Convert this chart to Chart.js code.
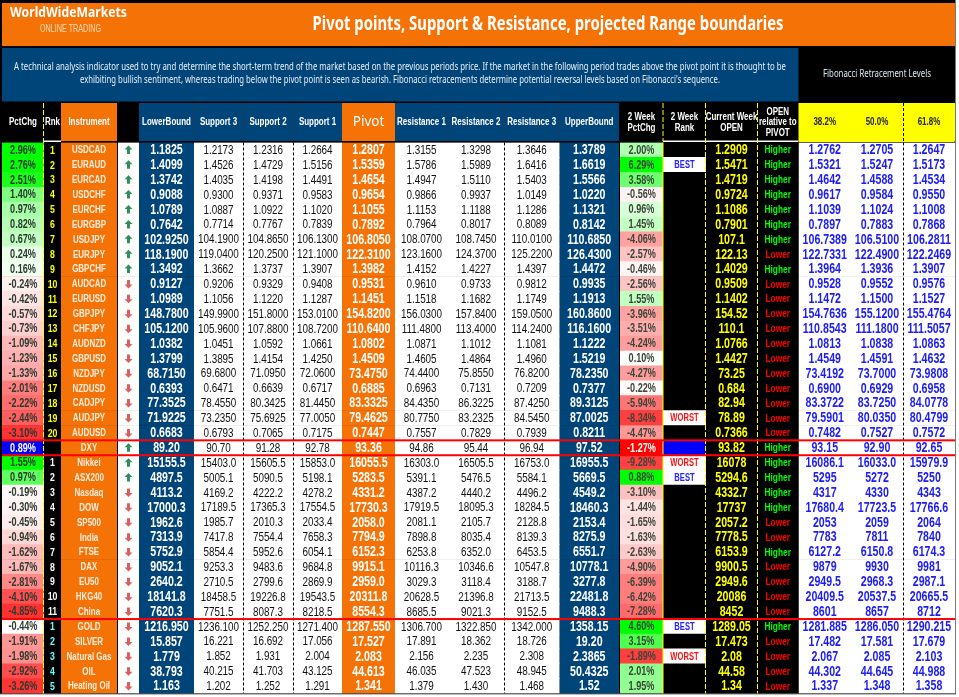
<!DOCTYPE html>
<html>
<head>
<meta charset="utf-8">
<title>Pivot points</title>
<script src="https://cdn.jsdelivr.net/npm/chart.js@4/dist/chart.umd.min.js"></script>
<style>
  html, body { margin: 0; padding: 0; background: #fff; }
  canvas { display: block; }
</style>
</head>
<body>
<canvas id="pivotTable" width="959" height="697"></canvas>
<script>
// ---- data ----
const instruments = ['USDCAD','EURAUD','EURCAD','USDCHF','EURCHF','EURGBP','USDJPY','EURJPY','GBPCHF','AUDCAD','EURUSD','GBPJPY','CHFJPY','AUDNZD','GBPUSD','NZDJPY','NZDUSD','CADJPY','AUDJPY','AUDUSD','DXY','Nikkei','ASX200','Nasdaq','DOW','SP500','India','FTSE','DAX','EU50','HKG40','China','GOLD','SILVER','Natural Gas','OIL','Heating Oil'];
const pctChg = [2.96,2.76,2.51,1.40,0.97,0.82,0.67,0.24,0.16,-0.24,-0.42,-0.57,-0.73,-1.09,-1.23,-1.33,-2.01,-2.22,-2.44,-3.10,0.89,1.55,0.97,-0.19,-0.30,-0.45,-0.94,-1.62,-1.67,-2.81,-4.10,-4.85,-0.44,-1.91,-1.98,-2.92,-3.26];
const ranks = ['1','2','3','4','5','6','7','8','9','10','11','12','13','14','15','16','17','18','19','20','','1','2','3','4','5','6','7','8','9','10','11','1','2','3','4','5'];
const lowerBound = ['1.1825','1.4099','1.3742','0.9088','1.0789','0.7642','102.9250','118.1900','1.3492','0.9127','1.0989','148.7800','105.1200','1.0382','1.3799','68.7150','0.6393','77.3525','71.9225','0.6683','89.20','15155.5','4897.5','4113.2','17000.3','1962.6','7313.9','5752.9','9052.1','2640.2','18141.8','7620.3','1216.950','15.857','1.779','38.793','1.163'];
const support3 = ['1.2173','1.4526','1.4035','0.9300','1.0887','0.7714','104.1900','119.0400','1.3662','0.9206','1.1056','149.9900','105.9600','1.0451','1.3895','69.6800','0.6471','78.4550','73.2350','0.6793','90.70','15403.0','5005.1','4169.2','17189.5','1985.7','7417.8','5854.4','9253.3','2710.5','18458.5','7751.5','1236.100','16.221','1.852','40.215','1.202'];
const support2 = ['1.2316','1.4729','1.4198','0.9371','1.0922','0.7767','104.8650','120.2500','1.3737','0.9329','1.1220','151.8000','107.8800','1.0592','1.4154','71.0950','0.6639','80.3425','75.6925','0.7065','91.28','15605.5','5090.5','4222.2','17365.3','2010.3','7554.4','5952.6','9483.6','2799.6','19226.8','8087.3','1252.250','16.692','1.931','41.703','1.252'];
const support1 = ['1.2664','1.5156','1.4491','0.9583','1.1020','0.7839','106.1300','121.1000','1.3907','0.9408','1.1287','153.0100','108.7200','1.0661','1.4250','72.0600','0.6717','81.4450','77.0050','0.7175','92.78','15853.0','5198.1','4278.2','17554.5','2033.4','7658.3','6054.1','9684.8','2869.9','19543.5','8218.5','1271.400','17.056','2.004','43.125','1.291'];
const pivot = ['1.2807','1.5359','1.4654','0.9654','1.1055','0.7892','106.8050','122.3100','1.3982','0.9531','1.1451','154.8200','110.6400','1.0802','1.4509','73.4750','0.6885','83.3325','79.4625','0.7447','93.36','16055.5','5283.5','4331.2','17730.3','2058.0','7794.9','6152.3','9915.1','2959.0','20311.8','8554.3','1287.550','17.527','2.083','44.613','1.341'];
const resistance1 = ['1.3155','1.5786','1.4947','0.9866','1.1153','0.7964','108.0700','123.1600','1.4152','0.9610','1.1518','156.0300','111.4800','1.0871','1.4605','74.4400','0.6963','84.4350','80.7750','0.7557','94.86','16303.0','5391.1','4387.2','17919.5','2081.1','7898.8','6253.8','10116.3','3029.3','20628.5','8685.5','1306.700','17.891','2.156','46.035','1.379'];
const resistance2 = ['1.3298','1.5989','1.5110','0.9937','1.1188','0.8017','108.7450','124.3700','1.4227','0.9733','1.1682','157.8400','113.4000','1.1012','1.4864','75.8550','0.7131','86.3225','83.2325','0.7829','95.44','16505.5','5476.5','4440.2','18095.3','2105.7','8035.4','6352.0','10346.6','3118.4','21396.8','9021.3','1322.850','18.362','2.235','47.523','1.430'];
const resistance3 = ['1.3646','1.6416','1.5403','1.0149','1.1286','0.8089','110.0100','125.2200','1.4397','0.9812','1.1749','159.0500','114.2400','1.1081','1.4960','76.8200','0.7209','87.4250','84.5450','0.7939','96.94','16753.0','5584.1','4496.2','18284.5','2128.8','8139.3','6453.5','10547.8','3188.7','21713.5','9152.5','1342.000','18.726','2.308','48.945','1.468'];
const upperBound = ['1.3789','1.6619','1.5566','1.0220','1.1321','0.8142','110.6850','126.4300','1.4472','0.9935','1.1913','160.8600','116.1600','1.1222','1.5219','78.2350','0.7377','89.3125','87.0025','0.8211','97.52','16955.5','5669.5','4549.2','18460.3','2153.4','8275.9','6551.7','10778.1','3277.8','22481.8','9488.3','1358.15','19.20','2.3865','50.4325','1.52'];
const pctChg2w = [2.00,6.29,3.58,-0.56,0.96,1.45,-4.06,-2.57,-0.46,-2.56,1.55,-3.96,-3.51,-4.24,0.10,-4.27,-0.22,-5.94,-8.34,-4.47,-1.27,-9.28,0.88,-3.10,-1.44,-1.65,-1.63,-2.63,-4.90,-6.39,-6.42,-7.28,4.60,3.15,-1.89,2.01,1.95];
const rank2w = ['','BEST','','','','','','','','','','','','','','','','','WORST','','','WORST','BEST','','','','','','','','','','BEST','','WORST','',''];
const weekOpen = ['1.2909','1.5471','1.4719','0.9724','1.1086','0.7901','107.1','122.13','1.4029','0.9509','1.1402','154.52','110.1','1.0766','1.4427','73.25','0.684','82.94','78.89','0.7366','93.82','16078','5294.6','4332.7','17737','2057.2','7778.5','6153.9','9900.5','2949.6','20086','8452','1289.05','17.473','2.08','44.58','1.34'];
const relToPivot = ['Higher','Higher','Higher','Higher','Higher','Higher','Higher','Lower','Higher','Lower','Lower','Lower','Lower','Lower','Lower','Lower','Lower','Lower','Lower','Lower','Higher','Higher','Higher','Higher','Higher','Lower','Lower','Higher','Lower','Lower','Lower','Lower','Higher','Lower','Lower','Lower','Lower'];
const fib382 = ['1.2762','1.5321','1.4642','0.9617','1.1039','0.7897','106.7389','122.7331','1.3964','0.9528','1.1472','154.7636','110.8543','1.0813','1.4549','73.4192','0.6900','83.3722','79.5901','0.7482','93.15','16086.1','5295','4317','17680.4','2053','7783','6127.2','9879','2949.5','20409.5','8601','1281.885','17.482','2.067','44.302','1.337'];
const fib500 = ['1.2705','1.5247','1.4588','0.9584','1.1024','0.7883','106.5100','122.4900','1.3936','0.9552','1.1500','155.1200','111.1800','1.0838','1.4591','73.7000','0.6929','83.7250','80.0350','0.7527','92.90','16033.0','5272','4330','17723.5','2059','7811','6150.8','9930','2968.3','20537.5','8657','1286.050','17.581','2.085','44.645','1.348'];
const fib618 = ['1.2647','1.5173','1.4534','0.9550','1.1008','0.7868','106.2811','122.2469','1.3907','0.9576','1.1527','155.4764','111.5057','1.0863','1.4632','73.9808','0.6958','84.0778','80.4799','0.7572','92.65','15979.9','5250','4343','17766.6','2064','7840','6174.3','9981','2987.1','20665.5','8712','1290.215','17.679','2.103','44.988','1.358'];

const titleText = 'Pivot points, Support & Resistance, projected Range boundaries';
const descLine1 = 'A technical analysis indicator used to try and determine the short-term trend of the market based on the previous periods price. If the market in the following period trades above the pivot point it is thought to be';
const descLine2 = "exhibiting bullish sentiment, whereas trading below the pivot point is seen as bearish. Fibonacci retracements determine potential reversal levels based on Fibonacci's sequence.";

// ---- styles ----
const ORANGE = '#f57206', BLUE = '#00457a', BLACK = '#000', WHITE = '#fff', YELLOW = '#ffff00';
const FIB_BLUE = '#1c1cf5';
const SANS = '"Liberation Sans", sans-serif';
const NARROW_FACTOR = 0.76; // no narrow face installed, squeeze the regular one

// row blocks: forex, dollar index, indices, commodities
function blockOf(i) { return i < 20 ? 0 : i === 20 ? 1 : i < 32 ? 2 : 3; }
const heatPct = [[-3.9, 0, 2.8], null, [-6, 0, 1.55], [-4, -0.44, 1]];
const heat2w = [[-11, 0, 6.3], null, [-12.5, 0, 0.88], [-2.5, 0, 4.6]];
const rankColors = ['#ffff00', WHITE, WHITE, '#66ffff'];

function heatColor(v, range) {
    const [lo, mid, hi] = range;
    if (v >= mid) {
        const c = Math.round(255 * (1 - Math.min(1, (v - mid) / (hi - mid))));
        return `rgb(${c},255,${c})`;
    }
    const c = Math.round(255 * (1 - Math.min(1, (v - mid) / (lo - mid))));
    return `rgb(255,${c},${c})`;
}
const pctFill = pctChg.map((v, i) => i === 20 ? '#0000ff' : heatColor(v, heatPct[blockOf(i)]));
const pct2wFill = pctChg2w.map((v, i) => i === 20 ? '#ff0000' : heatColor(v, heat2w[blockOf(i)]));
const rank2wFill = rank2w.map((r, i) => i === 20 ? '#0000ff' : r ? WHITE : BLACK);

const fmtPct = v => v.toFixed(2) + '%';
const boldValue = '700 14px ' + SANS, plain = '13px ' + SANS;

// columns: pixel span on the x scale, header, cell fill and cell text
const columns = [
    { from: 2, to: 44, head: ['PctChg'], headFill: BLACK, fill: pctFill, text: pctChg.map(fmtPct), font: '700 12px ' + SANS, color: i => i === 20 ? WHITE : '#2c3a30' },
    { from: 44, to: 61, head: ['Rnk'], headFill: BLACK, fill: BLACK, text: ranks, font: '700 11.5px ' + SANS, color: i => rankColors[blockOf(i)] },
    { from: 61, to: 117, head: ['Instrument'], headFill: ORANGE, fill: ORANGE, text: instruments, font: '700 10.5px ' + SANS, color: () => '#ffeedd' },
    { from: 118, to: 139, head: [], headFill: BLACK, fill: WHITE },
    { from: 139, to: 194, head: ['LowerBound'], headFill: BLUE, fill: BLUE, text: lowerBound, font: boldValue, color: () => '#fff' },
    { from: 194, to: 243, head: ['Support 3'], headFill: BLUE, fill: WHITE, text: support3, font: plain, color: () => '#111' },
    { from: 243, to: 293, head: ['Support 2'], headFill: BLUE, fill: WHITE, text: support2, font: plain, color: () => '#111' },
    { from: 293, to: 342, head: ['Support 1'], headFill: BLUE, fill: WHITE, text: support1, font: plain, color: () => '#111' },
    { from: 342, to: 395, head: ['Pivot'], headFill: ORANGE, fill: ORANGE, text: pivot, font: boldValue, color: () => '#fff', headFont: '13.5px "Noto Sans", sans-serif' },
    { from: 395, to: 448, head: ['Resistance 1'], headFill: BLUE, fill: WHITE, text: resistance1, font: plain, color: () => '#111' },
    { from: 448, to: 504, head: ['Resistance 2'], headFill: BLUE, fill: WHITE, text: resistance2, font: plain, color: () => '#111' },
    { from: 504, to: 559.5, head: ['Resistance 3'], headFill: BLUE, fill: WHITE, text: resistance3, font: plain, color: () => '#111' },
    { from: 559.5, to: 619, head: ['UpperBound'], headFill: BLUE, fill: BLUE, text: upperBound, font: boldValue, color: () => '#fff' },
    { from: 620, to: 663, head: ['2 Week', 'PctChg'], headFill: BLACK, fill: pct2wFill, text: pctChg2w.map(fmtPct), font: '700 12px ' + SANS, color: i => i === 20 ? WHITE : '#3a443a' },
    { from: 663, to: 706, head: ['2 Week', 'Rank'], headFill: BLACK, fill: rank2wFill, text: rank2w, font: '700 10px ' + SANS, color: i => rank2w[i] === 'BEST' ? '#2222ff' : '#ff1010' },
    { from: 706, to: 757, head: ['Current Week', 'OPEN'], headFill: BLACK, fill: BLACK, text: weekOpen, font: '700 14px ' + SANS, color: () => YELLOW },
    { from: 757, to: 798.5, head: ['OPEN', 'relative to', 'PIVOT'], headFill: BLACK, fill: BLACK, text: relToPivot, font: '700 11px ' + SANS, color: i => relToPivot[i] === 'Higher' ? '#00ff00' : '#ff0000' },
    { from: 798.5, to: 851, head: ['38.2%'], headFill: YELLOW, headColor: '#222', fill: WHITE, text: fib382, font: boldValue, color: () => FIB_BLUE },
    { from: 851, to: 903, head: ['50.0%'], headFill: YELLOW, headColor: '#222', fill: WHITE, text: fib500, font: boldValue, color: () => FIB_BLUE },
    { from: 903, to: 955, head: ['61.8%'], headFill: YELLOW, headColor: '#222', fill: WHITE, text: fib618, font: boldValue, color: () => FIB_BLUE }
];

function drawText(ctx, str, x, y, font, color, align, maxWidth) {
    ctx.font = font;
    ctx.fillStyle = color;
    ctx.textAlign = align || 'center';
    ctx.textBaseline = 'middle';
    ctx.fillText(str, x, y, maxWidth || ctx.measureText(str).width * NARROW_FACTOR);
}

function vDash(ctx, x, y1, y2, color, dash) {
    ctx.strokeStyle = color;
    ctx.lineWidth = 1;
    ctx.setLineDash(dash);
    ctx.beginPath();
    ctx.moveTo(x, y1);
    ctx.lineTo(x, y2);
    ctx.stroke();
    ctx.setLineDash([]);
}

// page frame, title bands and column headers sit behind the cells
const headerPlugin = {
    id: 'tableHeader',
    beforeDatasetsDraw(chart) {
        const { ctx, scales: { x } } = chart;
        const px = v => x.getPixelForValue(v);
        ctx.save();
        ctx.fillStyle = BLACK;
        ctx.fillRect(0, 0, px(956), 694);
        ctx.fillStyle = ORANGE;
        ctx.fillRect(2, 3, px(955) - 2, 43);
        ctx.fillStyle = BLUE;
        ctx.fillRect(2, 48, px(798.5) - 2, 53.5);

        drawText(ctx, 'WorldWideMarkets', 10, 13, '700 15px "Noto Sans", sans-serif', '#fff', 'left', 117);
        drawText(ctx, 'ONLINE TRADING', 40, 29.5, '10px ' + SANS, '#ffdcb8', 'left', 61);
        drawText(ctx, titleText, 548, 25, '700 19px "Noto Sans", sans-serif', '#fff', 'center', 471);
        drawText(ctx, descLine1, 400, 67.5, '10px "Noto Sans", sans-serif', '#e8f0f6', 'center', 772);
        drawText(ctx, descLine2, 400, 80.5, '10px "Noto Sans", sans-serif', '#e8f0f6', 'center', 640);
        drawText(ctx, 'Fibonacci Retracement Levels', 877, 74.5, '10px "Noto Sans", sans-serif', '#dce8f0', 'center', 108);

        columns.forEach(col => {
            const a = px(col.from), b = px(col.to);
            ctx.fillStyle = col.headFill;
            ctx.fillRect(a, 103, b - a, 38);
            const lineH = col.head.length === 3 ? 10.5 : 11;
            const first = 122.5 - (col.head.length - 1) * lineH / 2;
            col.head.forEach((line, k) => {
                drawText(ctx, line, (a + b) / 2, first + k * lineH, col.headFont || '700 10.5px ' + SANS, col.headColor || '#fff', 'center', col.headFont ? b - a : undefined);
            });
        });
        // thin navy separators between the blue headers
        [194, 243, 293, 448, 504, 559.5].forEach(v => vDash(ctx, px(v), 103, 141, '#1c3a60', []));
        // rules under the black headers
        ctx.fillStyle = WHITE;
        ctx.fillRect(px(44), 140.5, px(17), 1.5);
        ctx.fillRect(px(663), 140.5, px(135), 1.5);
        ctx.fillStyle = YELLOW;
        ctx.fillRect(px(798.5), 140.5, px(156), 1.5);
        ctx.restore();
    }
};

// cell text, arrows and rules go on top of the cells
const cellPlugin = {
    id: 'tableCells',
    afterDatasetsDraw(chart) {
        const { ctx, scales: { x, y } } = chart;
        const px = v => x.getPixelForValue(v);
        ctx.save();
        columns.forEach(col => {
            if (!col.text) return;
            const cx = (px(col.from) + px(col.to)) / 2;
            col.text.forEach((str, i) => {
                if (str) drawText(ctx, str, cx, y.getPixelForValue(i) + 0.5, col.font, col.color(i));
            });
        });

        // trend arrows follow the sign of PctChg
        const arrowX = (px(118) + px(139)) / 2;
        pctChg.forEach((v, i) => {
            const cy = y.getPixelForValue(i);
            const dir = v >= 0 ? -1 : 1;
            ctx.fillStyle = v >= 0 ? '#2f8f5a' : '#d9605f';
            ctx.beginPath();
            ctx.moveTo(arrowX, cy + dir * 4.5);
            ctx.lineTo(arrowX + 4, cy + dir * 0.5);
            ctx.lineTo(arrowX + 1.5, cy + dir * 0.5);
            ctx.lineTo(arrowX + 1.5, cy - dir * 4);
            ctx.lineTo(arrowX - 1.5, cy - dir * 4);
            ctx.lineTo(arrowX - 1.5, cy + dir * 0.5);
            ctx.lineTo(arrowX - 4, cy + dir * 0.5);
            ctx.closePath();
            ctx.fill();
        });

        const top = y.top, bottom = y.bottom;
        [243.5, 293.5, 504.5, 903.5].forEach(v => vDash(ctx, px(v), top, bottom, BLACK, [3, 2]));
        vDash(ctx, px(903.5), 103, 141, BLACK, [3, 2]);
        vDash(ctx, px(43.5), 103, bottom, YELLOW, [5, 2]);
        vDash(ctx, px(663), 103, 141, YELLOW, [5, 2]);
        vDash(ctx, px(663), top, bottom, YELLOW, []);
        vDash(ctx, px(705.5), 103, bottom, YELLOW, [5, 2]);
        vDash(ctx, px(757.5), 103, bottom, YELLOW, [5, 2]);

        // red rules around the DXY row and above the commodities
        ctx.fillStyle = '#ff0000';
        [20, 21, 32].forEach(i => {
            const edge = (y.getPixelForValue(i - 1) + y.getPixelForValue(i)) / 2;
            ctx.fillRect(px(2), edge - 1, px(953), 2);
        });
        ctx.fillStyle = '#7a7a7a';
        ctx.fillRect(0, bottom, px(956), 1);
        ctx.fillRect(px(955), 0, 1, bottom);
        ctx.restore();
    }
};

new Chart(document.getElementById('pivotTable'), {
    type: 'bar',
    data: {
        labels: instruments,
        // one dataset per column, every cell a floating bar
        datasets: columns.map(col => ({
            label: col.head.join(' ') || 'Trend',
            data: instruments.map(() => [col.from, col.to]),
            backgroundColor: col.fill,
            borderWidth: 0,
            barPercentage: 1.04,
            categoryPercentage: 1,
            grouped: false
        }))
    },
    options: {
        indexAxis: 'y',
        responsive: false,
        devicePixelRatio: 1,
        animation: false,
        events: [],
        layout: { padding: { top: 142.5, bottom: 3.5, left: 0, right: 0 } },
        plugins: {
            legend: { display: false },
            tooltip: { enabled: false },
            title: { display: false }
        },
        scales: {
            x: { type: 'linear', min: 0, max: 959, display: false },
            y: { type: 'category', display: false }
        }
    },
    plugins: [headerPlugin, cellPlugin]
});
</script>
</body>
</html>
